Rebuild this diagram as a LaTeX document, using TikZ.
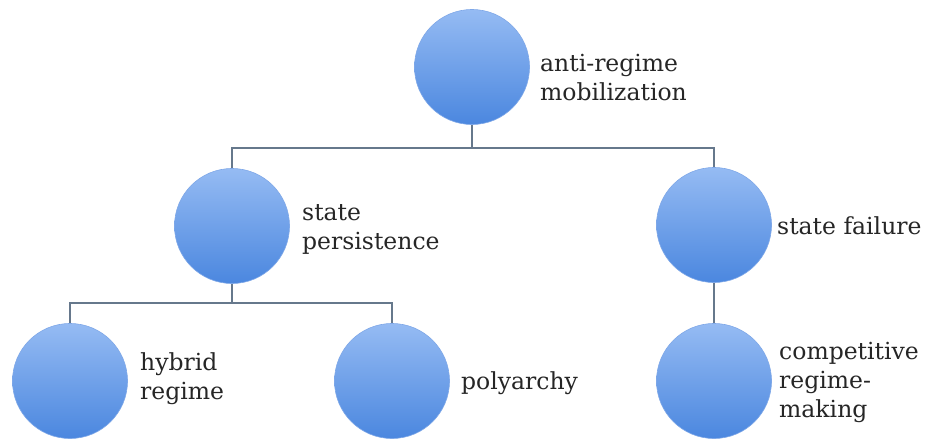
\documentclass[tikz,border=0pt]{standalone}
\usepackage{fontspec}
\setmainfont{DejaVu Serif}
\begin{document}
\begin{tikzpicture}[x=1pt,y=-1pt,
  ball/.style={circle,minimum size=115pt,inner sep=0pt,
    top color=ballTop,bottom color=ballBot,draw=ballEdge,line width=0.6pt},
  lbl/.style={anchor=west,align=left,text=txt,inner sep=0pt,
    font=\fontsize{23.5}{29}\selectfont},
  link/.style={draw=lineC,line width=1.4pt}]
\definecolor{ballTop}{HTML}{95BBF3}
\definecolor{ballBot}{HTML}{4B87DF}
\definecolor{ballEdge}{HTML}{7FA8E8}
\definecolor{lineC}{HTML}{66788C}
\definecolor{txt}{HTML}{262626}
\useasboundingbox[fill=white] (0,0) rectangle (927,439);
% circles
\node[ball] (A) at (472,67) {};
\node[ball] (B) at (232,226) {};
\node[ball] (C) at (714,225) {};
\node[ball] (D) at (70,381) {};
\node[ball] (E) at (392,381) {};
\node[ball] (F) at (714,381) {};
% junctions
\coordinate (j1) at (472,148);
\coordinate (j2) at (232,303);
% connectors
\draw[link] (A.south) -- (j1);
\draw[link] (B.north) |- (j1) -| (C.north);
\draw[link] (B.south) -- (j2);
\draw[link] (D.north) |- (j2) -| (E.north);
\draw[link] (C.south) -- (F.north);
% labels
\node[lbl] (tA) at (540,78) {anti-regime\\mobilization};
\node[lbl] (tB) at (302,229) {state\\persistence};
\node[lbl] (tC) at (777,226) {state failure};
\node[lbl] (tD) at (140,379) {hybrid\\regime};
\node[lbl] (tE) at (461,383) {polyarchy};
\node[lbl] (tF) at (779,382) {competitive\\regime-\\making};
\end{tikzpicture}
\end{document}
